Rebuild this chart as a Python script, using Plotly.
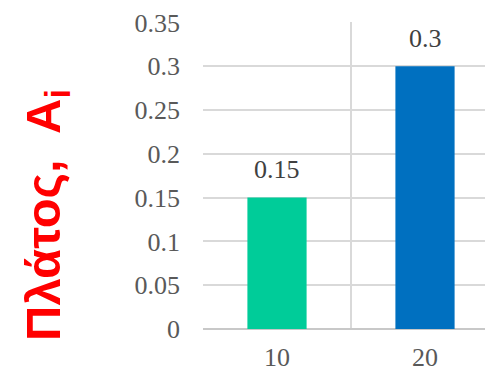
import plotly.graph_objects as go

# Amplitude per frequency category
categories = ["10", "20"]
values = [0.15, 0.30]
bar_colors = ["#00CC99", "#0070C0"]
y_ticks = [0, 0.05, 0.1, 0.15, 0.2, 0.25, 0.3, 0.35]
y_tick_text = ["0", "0.05", "0.1", "0.15", "0.2", "0.25", "0.3", "0.35"]

W, H = 485, 371
ML, MT, MB, MR = 203, 22, 42, 0

positions = list(range(len(categories)))
serif = "Liberation Serif"

fig = go.Figure(
    go.Bar(
        x=positions,
        y=values,
        width=0.4,
        marker=dict(color=bar_colors, line=dict(width=0)),
        hoverinfo="skip",
    )
)

# value labels floating above each bar
for p, v in zip(positions, values):
    fig.add_annotation(
        x=p,
        y=v,
        text=f"{v:g}",
        showarrow=False,
        xanchor="center",
        yanchor="middle",
        yshift=28,
        font=dict(family=serif, size=26, color="#404040"),
    )

grid_color = "#D9D9D9"

fig.update_layout(
    width=W,
    height=H,
    margin=dict(l=ML, r=MR, t=MT, b=MB, pad=0, autoexpand=False),
    paper_bgcolor="white",
    plot_bgcolor="white",
    showlegend=False,
    xaxis=dict(
        automargin=False,
        range=[-0.5, -0.5 + (W - ML) / 148],
        tickvals=positions,
        ticktext=categories,
        showgrid=False,
        zeroline=False,
        showline=False,
        ticks="",
        ticklabelstandoff=10,
        tickfont=dict(family=serif, size=26, color="#595959"),
        minor=dict(
            tickvals=[p - 0.5 for p in positions] + [positions[-1] + 0.5],
            showgrid=True,
            gridcolor=grid_color,
            gridwidth=1.5,
            ticks="",
        ),
    ),
    yaxis=dict(
        automargin=False,
        range=[0, 0.3505],
        tickvals=y_ticks,
        ticktext=y_tick_text,
        showgrid=True,
        gridcolor=grid_color,
        gridwidth=1.5,
        zeroline=True,
        zerolinecolor="#C8C8C8",
        zerolinewidth=2,
        showline=False,
        ticks="",
        ticklabelstandoff=22,
        tickfont=dict(family=serif, size=26, color="#595959"),
    ),
    annotations=list(fig.layout.annotations) + [
        dict(
            text="Πλάτος,  Α<sub>i</sub>",
            textangle=-90,
            xref="paper",
            yref="paper",
            x=(47 - ML) / (W - ML - MR),
            y=1 - (215 - MT) / (H - MT - MB),
            xanchor="center",
            yanchor="middle",
            showarrow=False,
            font=dict(family="Liberation Sans", size=49, color="#FF0000", weight="bold"),
        )
    ],
)

fig.write_html("out.html")
